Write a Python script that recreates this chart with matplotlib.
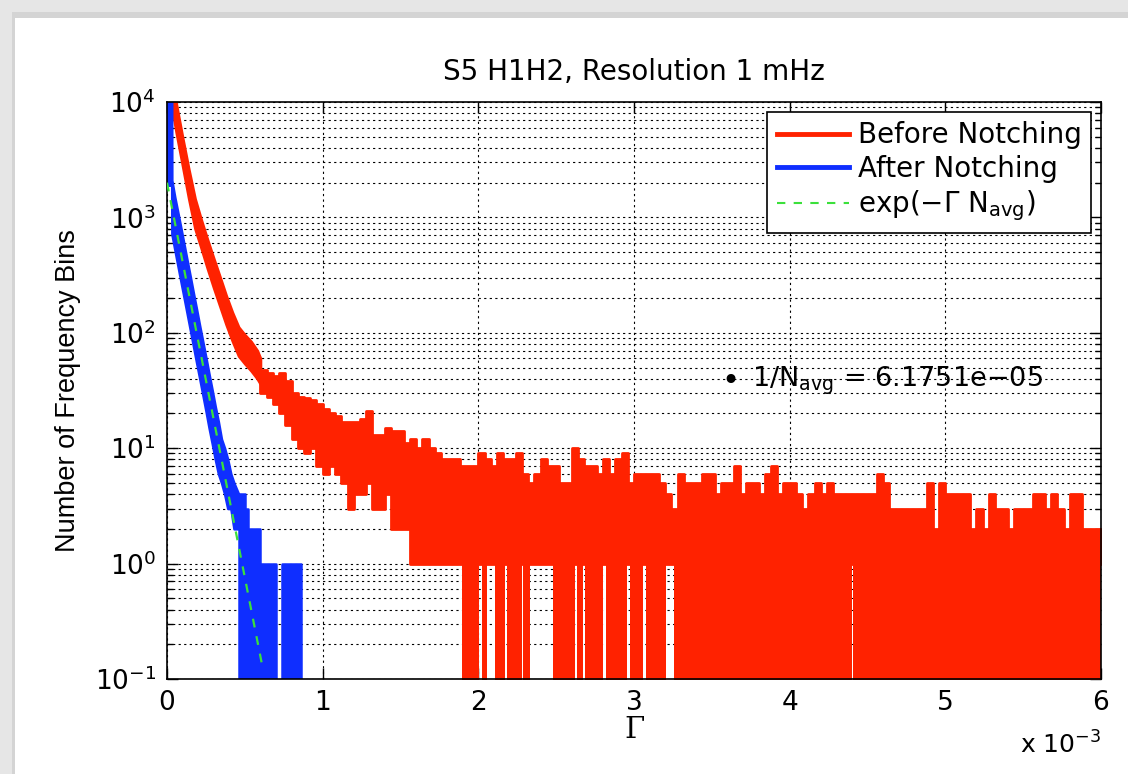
import numpy as np
import matplotlib.pyplot as plt
from matplotlib.patches import Rectangle
from matplotlib.ticker import FixedLocator, FuncFormatter, NullLocator, LogLocator

plt.rcParams['font.family'] = ['DejaVu Sans']
plt.rcParams['mathtext.fontset'] = 'dejavusans'

# ---- Before Notching ----
# steep head: band edges (Gamma in units of 1e-3)
red_head_gamma = [0.0, 0.02, 0.06, 0.10, 0.14, 0.18, 0.22, 0.26, 0.30, 0.34,
                  0.38, 0.42, 0.46, 0.50, 0.54, 0.58, 0.60]
red_head_upper = [20000, 20000, 9500, 4900, 2600, 1450, 950, 640, 440, 305,
                  210, 150, 112, 96, 84, 70, 60]
red_head_lower = [12000, 11000, 5400, 2800, 1450, 800, 540, 360, 245, 170,
                  118, 85, 63, 54, 47, 40, 36]
# tail: 4e-5 wide bins from Gamma = 0.6e-3, max / min count inside each bin
red_bin = 4e-5
red_tail_start = 0.6e-3
red_tail_upper = [48, 45, 42, 45, 38,
                  30, 28, 27, 26, 24, 22, 20, 19, 17, 17,
                  17, 18, 21, 13, 13, 15, 14, 14, 11, 12,
                  10, 12, 10, 9, 8, 8, 8, 7, 7, 7,
                  9, 8, 7, 9, 8, 8, 9, 6, 5, 6,
                  8, 7, 7, 5, 5, 10, 8, 7, 7, 6,
                  8, 6, 8, 9, 5, 6, 6, 6, 6, 5,
                  4, 3, 6, 5, 5, 5, 6, 6, 4, 5,
                  5, 7, 4, 5, 5, 4, 6, 7, 4, 5,
                  5, 4, 3, 4, 5, 4, 5, 4, 4, 4,
                  4, 4, 4, 4, 6, 5, 3, 3, 3, 3,
                  3, 3, 5, 2, 5, 4, 4, 4, 4, 2,
                  3, 2, 4, 3, 3, 2, 3, 3, 3, 4,
                  4, 3, 4, 3, 2, 4, 4, 2, 2, 2]
red_tail_lower = [30, 28, 24, 20, 16,
                  12, 10, 9, 10, 7, 6, 7, 6, 5, 3,
                  4, 4, 5, 3, 3, 4, 2, 2, 2, 1,
                  1, 1, 1, 1, 1, 1, 1, 1, 1, 1,
                  1, 1, 1, 1, 1, 1, 1, 1, 1, 1,
                  1, 1, 1, 1, 1, 1, 1, 1, 1, 1,
                  1, 1, 1, 1, 1, 1, 1, 1, 1, 1,
                  1, 1, 1, 1, 1, 1, 1, 1, 1, 1,
                  1, 1, 1, 1, 1, 1, 1, 1, 1, 1,
                  1, 1, 1, 1, 1, 1, 1, 1, 1, 1,
                  1, 1, 1, 1, 1, 1, 1, 1, 1, 1,
                  1, 1, 1, 1, 1, 1, 1, 1, 1, 1,
                  1, 1, 1, 1, 1, 1, 1, 1, 1, 1,
                  1, 1, 1, 1, 1, 1, 1, 1, 1, 1]
# Gamma ranges (x 1e-3) where "before" bins hit zero counts
red_zero_spans = [(1.897, 2.006), (2.026, 2.058), (2.109, 2.174), (2.186, 2.283),
                  (2.289, 2.334), (2.482, 2.624), (2.637, 2.675), (2.688, 2.804),
                  (2.817, 2.958), (2.977, 3.061), (3.074, 3.203), (3.254, 4.398),
                  (4.406, 6.0)]

# ---- After Notching ----
blue_head_gamma = [0.0, 0.03, 0.031, 0.05, 0.07, 0.09, 0.11, 0.13, 0.15, 0.17,
                   0.19, 0.21, 0.23, 0.25, 0.27, 0.29, 0.31, 0.33, 0.35, 0.37,
                   0.39, 0.41, 0.43, 0.46]
blue_head_upper = [20000, 20000, 2100, 1500, 1100, 800, 580, 420, 305, 220,
                   160, 115, 84, 61, 44, 32, 23, 17, 12, 10,
                   8, 6, 5, 4]
blue_head_lower = [1900, 1900, 720, 525, 380, 275, 200, 145, 105, 76,
                   55, 40, 29, 21, 15, 11, 8, 6, 5, 4,
                   3, 3, 2, 2]
blue_bin = 2e-5
blue_tail_start = 0.46e-3
blue_tail_upper = [4, 4, 3, 2, 2, 2, 2, 1, 1, 1, 1, 1, 0, 0, 1, 1, 1, 1, 1, 1]
blue_tail_lower = [0, 0, 0, 0, 0, 0, 0, 0, 0, 0, 0, 0, 0, 0, 0, 0, 0, 0, 0, 0]

# exp(-Gamma N_avg) reference line, end points
exp_gamma = [0.0, 0.617e-3]
exp_count = [2000, 0.12]

red = '#ff2200'
blue = '#0f2eff'
green = '#3be03b'


def band(ax, x, lo, hi, color, lw, step=None):
    if step:
        lo = list(lo) + [lo[-1]]
        hi = list(hi) + [hi[-1]]
    ax.fill_between(x, lo, hi, step=step, color=color, lw=lw, zorder=2)


fig = plt.figure(figsize=(11.28, 7.74), dpi=100)
fig.patch.set_facecolor('#e6e6e6')
fig.add_artist(Rectangle((12 / 1128, 0), 1, (774 - 12) / 774, transform=fig.transFigure,
                         facecolor='#d4d4d4', edgecolor='none', zorder=-3))
fig.add_artist(Rectangle((15 / 1128, 0), 1, (774 - 18) / 774, transform=fig.transFigure,
                         facecolor='white', edgecolor='none', zorder=-2))

ax = fig.add_axes([167 / 1128, 1 - 679 / 774, (1101 - 167) / 1128, (679 - 102) / 774])
ax.set_yscale('log', nonpositive='clip')

# before notching
band(ax, np.array(red_head_gamma) * 1e-3, red_head_lower, red_head_upper, red, 2)
red_edges = red_tail_start + np.arange(len(red_tail_upper) + 1) * red_bin
band(ax, red_edges, red_tail_lower, red_tail_upper, red, 2, step='post')
for a, b in red_zero_spans:
    ax.fill_between([a * 1e-3, b * 1e-3], [1e-3, 1e-3], [1, 1], color=red, lw=0, zorder=2)

# after notching
band(ax, np.array(blue_head_gamma) * 1e-3, blue_head_lower, blue_head_upper, blue, 1.8)
blue_edges = blue_tail_start + np.arange(len(blue_tail_upper) + 1) * blue_bin
band(ax, blue_edges, blue_tail_lower, blue_tail_upper, blue, 1.8, step='post')

ax.plot(exp_gamma, exp_count, color=green, lw=1.6, dashes=(4, 4), zorder=4)

ax.set_xlim(0, 6e-3)
ax.set_ylim(0.1, 1e4)
ax.xaxis.set_major_locator(FixedLocator([0, 1e-3, 2e-3, 3e-3, 4e-3, 5e-3, 6e-3]))
ax.xaxis.set_major_formatter(FuncFormatter(lambda v, _: f'{v * 1e3:g}'))
ax.xaxis.set_minor_locator(NullLocator())
ax.yaxis.set_major_locator(LogLocator(base=10, numticks=10))
ax.yaxis.set_minor_locator(LogLocator(base=10, subs=np.arange(2, 10), numticks=20))

ax.grid(True, which='major', color='k', lw=0.8, linestyle=(0, (2, 3)))
ax.grid(True, which='minor', axis='y', color='k', lw=0.8, linestyle=(0, (2, 3)))
ax.tick_params(which='both', direction='in', top=True, right=True, width=1, labelsize=19)
ax.tick_params(which='major', length=8, pad=8)
ax.tick_params(which='minor', length=4)
for s in ax.spines.values():
    s.set_linewidth(1.2)

ax.set_title('S5 H1H2, Resolution 1 mHz', fontsize=20, pad=16)
ax.set_ylabel('Number of Frequency Bins', fontsize=19.5, family='Liberation Sans', labelpad=10)
ax.set_xlabel('Γ', fontsize=21, family='DejaVu Serif', labelpad=0)
ax.text(1.0, -0.09, r'x 10$^{-3}$', transform=ax.transAxes, ha='right', va='top', fontsize=18)

ax.text(3.62e-3, 38, '•', fontsize=22, va='center', ha='center', zorder=5)
ax.text(3.76e-3, 38, r'1/N$_{\mathrm{avg}}$ = 6.1751e$-$05', fontsize=19.5, va='center',
        zorder=5)

ax.plot([], [], color=red, lw=3.5, label='Before Notching')
ax.plot([], [], color=blue, lw=3.5, label='After Notching')
ax.plot([], [], color=green, lw=1.5, dashes=(4, 4), label=r'exp($-\Gamma$ N$_{\mathrm{avg}}$)')
leg = ax.legend(loc='upper right', fontsize=20, fancybox=False, framealpha=1,
                edgecolor='k', borderaxespad=0.35, handlelength=2.6, handletextpad=0.3,
                labelspacing=0.2, borderpad=0.35)
leg.get_frame().set_linewidth(1.2)
leg.set_zorder(6)

fig.savefig('out.png', dpi=100, facecolor=fig.get_facecolor())
